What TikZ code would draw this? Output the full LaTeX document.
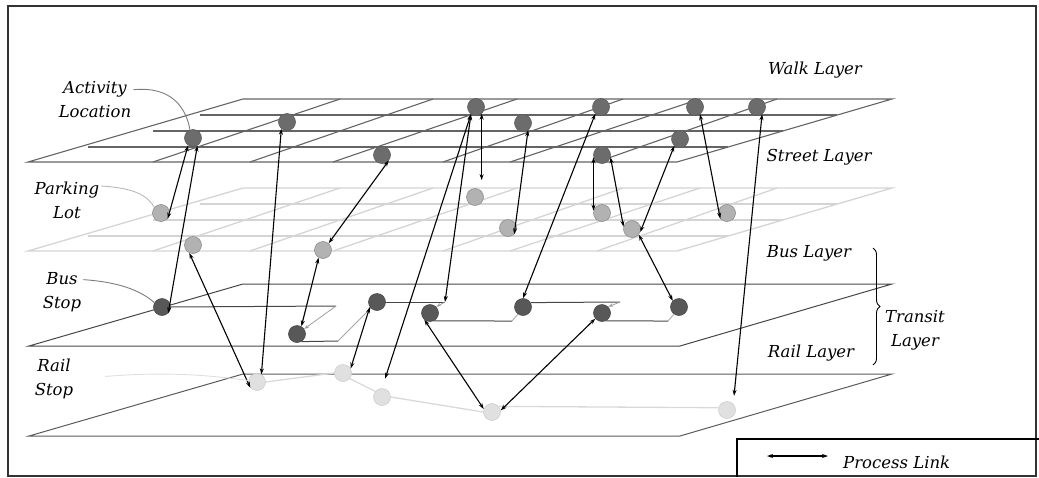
\documentclass[tikz,border=0pt]{standalone}
\usepackage{fontspec}
\setmainfont{DejaVu Serif}
\usepackage{xcolor}
\definecolor{gridgray}{RGB}{100,100,100}
\definecolor{parkgray}{RGB}{212,212,212}
\definecolor{busgray}{RGB}{70,70,70}
\definecolor{railgray}{RGB}{90,90,90}
\definecolor{walkfill}{RGB}{108,108,108}
\definecolor{parkfill}{RGB}{178,178,178}
\definecolor{busfill}{RGB}{88,88,88}
\definecolor{railfill}{RGB}{224,224,224}
\definecolor{leadgray}{RGB}{125,125,125}
\usepackage{tikz}
\usetikzlibrary{arrows.meta, calc, decorations.pathreplacing}

\tikzset{
  walknode/.style={circle, fill=walkfill, draw=walkfill!85!black, line width=0.6pt, minimum size=17pt, inner sep=0pt},
  parknode/.style={circle, fill=parkfill, draw=parkfill!80!black, line width=0.6pt, minimum size=17pt, inner sep=0pt},
  busnode/.style={circle, fill=busfill, draw=busfill!85!black, line width=0.6pt, minimum size=17pt, inner sep=0pt},
  railnode/.style={circle, fill=railfill, draw=railfill!92!black, line width=0.6pt, minimum size=17pt, inner sep=0pt},
  gridline/.style={gridgray, line width=1.1pt},
  parkline/.style={parkgray, line width=1.3pt},
  busroute/.style={busgray, line width=1pt},
  busturn/.style={gray!75, line width=0.8pt, -{Stealth[length=5pt,width=3.5pt]}},
  busup/.style={gray!70, line width=0.8pt},
  railroute/.style={gray!30, line width=1.3pt},
  link/.style={black, line width=1.1pt, {Stealth[length=6pt,width=4pt]}-{Stealth[length=6pt,width=4pt]}},
  leader/.style={line width=0.9pt},
  lbl/.style={font=\fontsize{16.5}{24}\selectfont\itshape, align=center, inner sep=2pt},
}

\begin{document}
\begin{tikzpicture}[x=1pt, y=-1pt]
  \useasboundingbox (0,0) rectangle (1039,477);

  % Frame and legend box
  \draw[black!80, line width=1.3pt] (8,6) rectangle (1036,476);
  \draw[black, line width=1.2pt] (737,477) -- (737,439) -- (1039,439);

  % --- Parking layer (faint grid) ---
  \begin{scope}[shift={(0,89)}]
    \draw[parkline] (28,162) -- (243,99) -- (892,99) -- (677,162) -- cycle;
    \draw[parkline] (200,115) -- (837,115);
    \draw[parkline] (153,131) -- (783,131);
    \draw[parkline] (88,147) -- (728,147);
    \foreach \b/\t in {153/340, 250/433, 333/517, 443/623, 510/700, 597/777}
      \draw[parkline] (\b,162) -- (\t,99);
  \end{scope}

  % --- Bus layer and rail layer outlines ---
  \draw[busgray, line width=1pt] (29,346) -- (243,284) -- (892,284) -- (680,346) -- cycle;
  \draw[railgray, line width=1pt] (29,436) -- (243,374) -- (892,374) -- (680,436) -- cycle;

  % --- Walk / street layer (grid) ---
  \draw[gridline] (28,162) -- (243,99) -- (892,99) -- (677,162) -- cycle;
  \draw[gridline] (200,115) -- (837,115);
  \draw[gridline] (153,131) -- (783,131);
  \draw[gridline] (88,147) -- (728,147);
  \foreach \b/\t in {153/340, 250/433, 333/517, 443/623, 510/700, 597/777}
    \draw[gridline] (\b,162) -- (\t,99);

  % Walk / street nodes
  \node[walknode] (w1) at (193,138) {};
  \node[walknode] (w2) at (287,122) {};
  \node[walknode] (w3) at (382,155) {};
  \node[walknode] (w4) at (476,107) {};
  \node[walknode] (w5) at (523,123) {};
  \node[walknode] (w6) at (601,107) {};
  \node[walknode] (w7) at (602,155) {};
  \node[walknode] (w8) at (695,107) {};
  \node[walknode] (w9) at (680,139) {};
  \node[walknode] (w10) at (757,107) {};

  % Parking nodes
  \node[parknode] (p1) at (161,213) {};
  \node[parknode] (p2) at (193,245) {};
  \node[parknode] (p3) at (323,250) {};
  \node[parknode] (p4) at (475,197) {};
  \node[parknode] (p5) at (508,228) {};
  \node[parknode] (p6) at (602,213) {};
  \node[parknode] (p7) at (632,229) {};
  \node[parknode] (p8) at (727,213) {};

  % Bus stops
  \node[busnode] (b1) at (162,307) {};
  \node[busnode] (b2) at (297,334) {};
  \node[busnode] (b3) at (377,302) {};
  \node[busnode] (b4) at (430,313) {};
  \node[busnode] (b5) at (523,307) {};
  \node[busnode] (b6) at (602,313) {};
  \node[busnode] (b7) at (679,307) {};

  % Rail stops
  \node[railnode] (r1) at (257,382) {};
  \node[railnode] (r2) at (343,373) {};
  \node[railnode] (r3) at (382,397) {};
  \node[railnode] (r4) at (492,412) {};
  \node[railnode] (r5) at (727,410) {};

  % Bus route (lanes and turns)
  \coordinate (t1) at (336,306);
  \coordinate (t2) at (338,341);
  \coordinate (t3) at (445,302);
  \coordinate (t4) at (512,321);
  \coordinate (t5) at (620,302);
  \coordinate (t6) at (668,321);
  \draw[busroute] (b1.east) -- (t1);
  \draw[busturn] (t1) -- (b2.35);
  \draw[busroute] (b2.-60) -- (t2);
  \draw[busup] (t2) -- (b3.225);
  \draw[busroute] (b3.east) -- (t3);
  \draw[busturn] (t3) -- (b4.45);
  \draw[busroute] (b4.-65) -- (t4);
  \draw[busup] (t4) -- (b5.235);
  \draw[busroute] (b5.30) -- (t5);
  \draw[busturn] (t5) -- (b6.45);
  \draw[busroute] (b6.-65) -- (t6);
  \draw[busup] (t6) -- (b7.235);

  % Rail route
  \draw[railroute] (r1.east) -- (r2.west);
  \draw[railroute] (r2.-40) -- (r3.140);
  \draw[railroute] (r3.east) -- (r4.west);
  \draw[railroute] (r4.40) -- (r5.165);

  % Process links
  \draw[link] (w1.236) -- (p1.-40);
  \draw[link] (w1.-60) -- (b1.-45);
  \draw[link] (p2.-115) -- (r1.220);
  \draw[link] (w2.230) -- (r1.60);
  \draw[link] (w3.-40) -- (p3.50);
  \draw[link] (p3.-120) -- (b2.60);
  \draw[link, shorten >=10pt] (w4.235) -- (r3.north);
  \draw[link] (w4.235) -- (t3);
  \draw[link, shorten >=8pt] (w4.-50) -- (w4.-50 |- p4.north);
  \draw[link] (r2.30) -- (b3.215);
  \draw[link] (w6.230) -- (b5.90);
  \draw[link] (w5.-55) -- (p5.-45);
  \draw[link] (w7.195) -- (p6.165);
  \draw[link] (w7.-15) -- (p7.165);
  \draw[link] (w9.230) -- (p7.-20);
  \draw[link] (p7.-40) -- (b7.135);
  \draw[link] (w8.-55) -- (p8.220);
  \draw[link, shorten >=8pt] (w10.-55) -- (r5.45);
  \draw[link] (r4.160) -- (b4.230);
  \draw[link] (r4.10) -- (b6.220);

  % Left labels with leaders
  \node[lbl] (actlbl) at (95,100) {Activity\\Location};
  \node[lbl] (parklbl) at (67,200) {Parking\\Lot};
  \node[lbl] (buslbl) at (62,292) {Bus\\Stop};
  \node[lbl] (raillbl) at (54,379) {Rail\\Stop};
  \draw[leader, leadgray] (actlbl.15) .. controls (172,86) and (186,108) .. (w1.110);
  \draw[leader, gray!55] (parklbl.22) .. controls (135,188) and (148,196) .. (p1.140);
  \draw[leader, leadgray] (buslbl.30) .. controls (118,282) and (140,290) .. (b1.150);
  \draw[leader, gray!25, shorten <=30pt] (raillbl.east) .. controls (170,371) and (215,376) .. (r1.170);

  % Right labels
  \node[lbl] (walklbl) at (815,70) {Walk Layer};
  \node[lbl] (streetlbl) at (819,157) {Street Layer};
  \node[lbl] (buslayer) at (809,253) {Bus Layer};
  \node[lbl] (raillayer) at (811,353) {Rail Layer};
  \draw[decorate, decoration={brace, amplitude=7pt}, line width=0.9pt] (873,248) -- (873,365);
  \node[lbl] (transit) at (915,330) {Transit\\Layer};

  % Legend
  \coordinate (la) at (767,456);
  \coordinate (lb) at (828,456);
  \draw[link] (la) -- (lb);
  \node[lbl, anchor=west] (legtext) at (841,462) {Process Link};
\end{tikzpicture}
\end{document}
